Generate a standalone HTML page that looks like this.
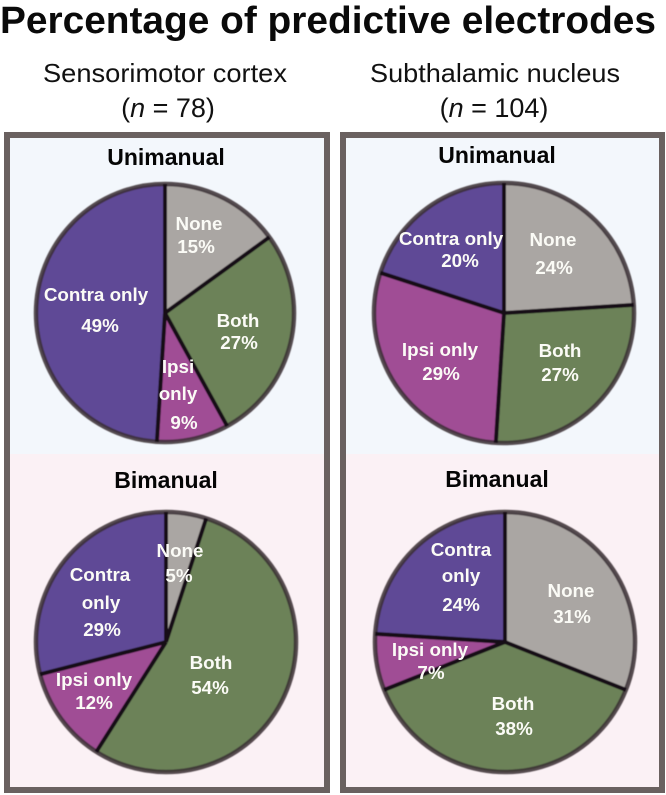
<!DOCTYPE html>
<html lang="en">
<head>
<meta charset="utf-8">
<title>Percentage of predictive electrodes</title>
<style>
html,body{margin:0;padding:0;background:#fff;}
svg{display:block;font-family:"Liberation Sans",sans-serif;}
</style>
</head>
<body>
<svg id="chart" xmlns="http://www.w3.org/2000/svg" width="666" height="795" viewBox="0 0 666 795">
  <defs>
    <filter id="soft" x="-5%" y="-5%" width="110%" height="110%"><feGaussianBlur stdDeviation="0.45"/></filter>
  </defs>
  <rect width="666" height="795" fill="#ffffff"/>
  <text x="0" y="33" font-size="38" font-weight="700" fill="#0a0a0a" textLength="656" lengthAdjust="spacingAndGlyphs">Percentage of predictive electrodes</text>

  <text x="165" y="82" font-size="26" text-anchor="middle" fill="#111" textLength="244" lengthAdjust="spacingAndGlyphs">Sensorimotor cortex</text>
  <text x="168" y="117" font-size="27" text-anchor="middle" fill="#111">(<tspan font-style="italic">n</tspan> = 78)</text>
  <text x="495" y="82" font-size="26" text-anchor="middle" fill="#111" textLength="250" lengthAdjust="spacingAndGlyphs">Subthalamic nucleus</text>
  <text x="494" y="117" font-size="27" text-anchor="middle" fill="#111">(<tspan font-style="italic">n</tspan> = 104)</text>

  <rect x="7" y="135" width="320" height="319" fill="#f3f7fc"/>
  <rect x="7" y="454" width="320" height="336" fill="#fbf1f5"/>
  <rect x="343" y="135" width="319" height="319" fill="#f3f7fc"/>
  <rect x="343" y="454" width="319" height="336" fill="#fbf1f5"/>
  <rect x="7" y="135" width="320" height="655" fill="none" stroke="#6a6160" stroke-width="6"/>
  <rect x="343" y="135" width="319" height="655" fill="none" stroke="#6a6160" stroke-width="6"/>

  <text x="166" y="165" font-size="23" font-weight="700" text-anchor="middle" fill="#050505">Unimanual</text>
  <text x="497" y="163" font-size="23" font-weight="700" text-anchor="middle" fill="#050505">Unimanual</text>
  <text x="166" y="488" font-size="23" font-weight="700" text-anchor="middle" fill="#050505">Bimanual</text>
  <text x="497" y="487" font-size="23" font-weight="700" text-anchor="middle" fill="#050505">Bimanual</text>
  <g id="pies"></g>
</svg>
<script>
// Chart data: slice order is clockwise from 12 o'clock
const categories = ['None', 'Both', 'Ipsi only', 'Contra only'];
const cortexUnimanual = [15, 27, 9, 49];
const nucleusUnimanual = [24, 27, 29, 20];
const cortexBimanual = [5, 54, 12, 29];
const nucleusBimanual = [31, 38, 7, 24];

function drawCharts() {
  const NS = 'http://www.w3.org/2000/svg';
  const root = document.getElementById('pies');
  const fills = ['#aaa6a3', '#6c8259', '#a04d95', '#5f4896'];

  // Layout for each pie; label anchors are placed by hand as in the figure
  const pies = [
    { key: 'cortex-unimanual', values: cortexUnimanual, cx: 165, cy: 313, r: 129,
      labels: [
        { lines: [['None', 199, 224]], pct: [196, 247] },
        { lines: [['Both', 238, 321]], pct: [239, 343] },
        { lines: [['Ipsi', 178, 367], ['only', 178, 394]], pct: [184, 423] },
        { lines: [['Contra only', 96, 295]], pct: [100, 326] }
      ] },
    { key: 'nucleus-unimanual', values: nucleusUnimanual, cx: 504, cy: 313, r: 130,
      labels: [
        { lines: [['None', 553, 240]], pct: [554, 268] },
        { lines: [['Both', 560, 351]], pct: [560, 375] },
        { lines: [['Ipsi only', 440, 350]], pct: [441, 374] },
        { lines: [['Contra only', 451, 239]], pct: [460, 261] }
      ] },
    { key: 'cortex-bimanual', values: cortexBimanual, cx: 166, cy: 642, r: 130,
      labels: [
        { lines: [['None', 180, 551]], pct: [179, 576] },
        { lines: [['Both', 211, 663]], pct: [210, 688] },
        { lines: [['Ipsi only', 94, 680]], pct: [94, 703] },
        { lines: [['Contra', 100, 575], ['only', 101, 603]], pct: [102, 630] }
      ] },
    { key: 'nucleus-bimanual', values: nucleusBimanual, cx: 505, cy: 642, r: 130,
      labels: [
        { lines: [['None', 571, 591]], pct: [572, 617] },
        { lines: [['Both', 513, 704]], pct: [514, 729] },
        { lines: [['Ipsi only', 430, 650]], pct: [431, 673] },
        { lines: [['Contra', 461, 550], ['only', 461, 576]], pct: [461, 605] }
      ] }
  ];

  function slug(s) { return s.toLowerCase().replace(/\s+/g, '-'); }

  function angleScale(values) {
    const total = values.reduce((a, b) => a + b, 0);
    return v => (v / total) * Math.PI * 2;
  }

  function point(p, a) {
    return [p.cx + p.r * Math.sin(a), p.cy - p.r * Math.cos(a)];
  }

  function addText(parent, str, x, y, name) {
    const t = document.createElementNS(NS, 'text');
    
    
    t.setAttribute('x', x);
    t.setAttribute('y', y + 6);
    t.setAttribute('text-anchor', 'middle');
    t.setAttribute('font-size', '18.8');
    t.setAttribute('font-weight', '700');
    t.setAttribute('fill', '#fbfbf6');
    t.textContent = str;
    parent.appendChild(t);
  }

  pies.forEach(p => {
    const group = document.createElementNS(NS, 'g');
    
    
    root.appendChild(group);

    const marks = document.createElementNS(NS, 'g');
    
    
    marks.setAttribute('filter', 'url(#soft)');
    group.appendChild(marks);

    const scale = angleScale(p.values);
    let start = 0;
    const edges = [];

    p.values.forEach((v, i) => {
      const sweep = scale(v);
      const end = start + sweep;
      const a = point(p, start);
      const b = point(p, end);
      const large = sweep > Math.PI ? 1 : 0;
      const path = document.createElementNS(NS, 'path');
      
      
      path.setAttribute('d', 'M' + p.cx + ' ' + p.cy + 'L' + a[0] + ' ' + a[1] +
        'A' + p.r + ' ' + p.r + ' 0 ' + large + ' 1 ' + b[0] + ' ' + b[1] + 'Z');
      path.setAttribute('fill', fills[i]);
      marks.appendChild(path);
      edges.push(a);
      start = end;
    });

    const ring = document.createElementNS(NS, 'circle');
    
    
    ring.setAttribute('cx', p.cx);
    ring.setAttribute('cy', p.cy);
    ring.setAttribute('r', p.r);
    ring.setAttribute('fill', 'none');
    ring.setAttribute('stroke', '#3a2f34');
    ring.setAttribute('stroke-opacity', '0.85');
    ring.setAttribute('stroke-width', '4.5');
    marks.appendChild(ring);

    edges.forEach((a, i) => {
      const line = document.createElementNS(NS, 'line');
      
      
      line.setAttribute('x1', p.cx);
      line.setAttribute('y1', p.cy);
      line.setAttribute('x2', a[0]);
      line.setAttribute('y2', a[1]);
      line.setAttribute('stroke', '#171019');
      line.setAttribute('stroke-width', '4');
      marks.appendChild(line);
    });

    p.labels.forEach((l, i) => {
      const cat = slug(categories[i]);
      l.lines.forEach((ln, j) => {
        addText(group, ln[0], ln[1], ln[2], 'label-' + p.key + '-' + cat + '-' + (j + 1));
      });
      addText(group, p.values[i] + '%', l.pct[0], l.pct[1], 'value-' + p.key + '-' + cat);
    });
  });
}
drawCharts();
</script>
</body>
</html>
